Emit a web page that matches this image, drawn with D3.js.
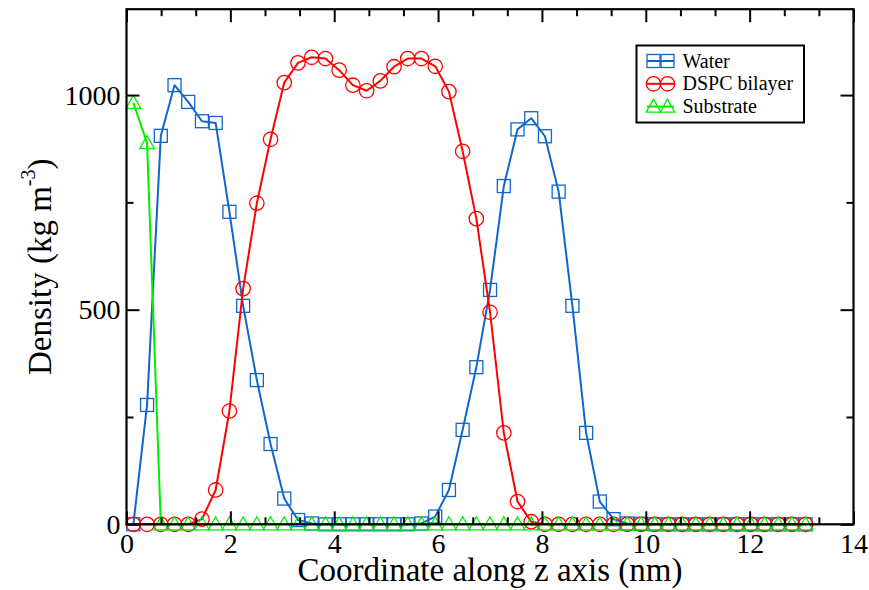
<!DOCTYPE html>
<html>
<head>
<meta charset="utf-8">
<script src="https://cdn.jsdelivr.net/npm/d3@7"></script>
<style>
  html, body { margin: 0; padding: 0; background: #fff; }
  svg { display: block; }
  svg text { font-family: "Liberation Serif", "Times New Roman", Times, serif !important; }
</style>
</head>
<body>
<svg id="chart" width="869" height="590"></svg>
<script>
// ---- data ----
const zCoord = [0.132, 0.396, 0.661, 0.925, 1.189, 1.453, 1.717, 1.982, 2.246, 2.510,
                2.774, 3.038, 3.303, 3.567, 3.831, 4.095, 4.359, 4.624, 4.888, 5.152,
                5.416, 5.680, 5.945, 6.209, 6.473, 6.737, 7.001, 7.266, 7.530, 7.794,
                8.058, 8.322, 8.587, 8.851, 9.115, 9.379, 9.643, 9.908, 10.172, 10.436,
                10.700, 10.964, 11.229, 11.493, 11.757, 12.021, 12.285, 12.550, 12.814, 13.078];
const water = [0, 278, 905, 1023, 984, 939, 935, 728, 509, 336,
               187, 60, 10, 2, 0, 0, 0, 0, 0, 0,
               0, 2, 18, 80, 220, 366, 546, 788, 920, 946,
               904, 775, 509, 213, 53, 12, 2, 1, 0, 0,
               0, 0, 0, 0, 0, 0, 0, 0, 0, 0];
const dspc = [0, 0, 0, 0, 0, 12, 80, 264, 549, 748,
              897, 1029, 1075, 1088, 1085, 1058, 1023, 1010, 1033, 1066,
              1085, 1085, 1067, 1008, 869, 712, 494, 213, 53, 6,
              0, 0, 0, 0, 0, 0, 0, 0, 0, 0,
              0, 0, 0, 0, 0, 0, 0, 0, 0, 0];
const substrate = [982, 888, 0, 0, 0, 0, 0, 0, 0, 0,
                   0, 0, 0, 0, 0, 0, 0, 0, 0, 0,
                   0, 0, 0, 0, 0, 0, 0, 0, 0, 0,
                   0, 0, 0, 0, 0, 0, 0, 0, 0, 0,
                   0, 0, 0, 0, 0, 0, 0, 0, 0, 0];
const seriesNames = ["Water", "DSPC bilayer", "Substrate"];
const xMajorTicks = [0, 2, 4, 6, 8, 10, 12, 14];
const yMajorTicks = [0, 500, 1000];
const xMinorTicks = [0.667, 1.333, 2.667, 3.333, 4.667, 5.333, 6.667, 7.333, 8.667, 9.333, 10.667, 11.333, 12.667, 13.333];
const yMinorTicks = [250, 750];
const xTitle = "Coordinate along z axis (nm)";

// ---- layout ----
const L = 126.5, R = 853.5, T = 9.2, B = 524.3;
const FONT = "'Liberation Serif', 'Times New Roman', Times, serif";
const svg = d3.select("#chart");
const x = d3.scaleLinear().domain([0, 14]).range([L, R]);
const y = d3.scaleLinear().domain([0, 1200]).range([B, T]);

const series = [
  { name: seriesNames[0], values: water, color: "#1166cc", symbol: "square" },
  { name: seriesNames[1], values: dspc, color: "#ff0000", symbol: "circle" },
  { name: seriesNames[2], values: substrate, color: "#00ee00", symbol: "triangle" }
];

function drawSymbol(g, type, cx, cy, color) {
  if (type === "square") {
    g.append("rect").attr("x", cx - 6.5).attr("y", cy - 6.5).attr("width", 13).attr("height", 13)
      .attr("fill", "none").attr("stroke", color).attr("stroke-width", 1.3);
  } else if (type === "circle") {
    g.append("circle").attr("cx", cx).attr("cy", cy).attr("r", 7.2)
      .attr("fill", "none").attr("stroke", color).attr("stroke-width", 1.3);
  } else {
    g.append("path").attr("d", `M${cx},${cy - 7.5} L${cx + 7.3},${cy + 5.5} L${cx - 7.3},${cy + 5.5} Z`)
      .attr("fill", "none").attr("stroke", color).attr("stroke-width", 1.3);
  }
}

const line = d3.line().x(d => x(d[0])).y(d => y(d[1]));
const dataG = svg.append("g");
series.forEach(s => {
  const pts = zCoord.map((z, i) => [z, s.values[i]]);
  dataG.append("path").attr("d", line(pts)).attr("fill", "none")
    .attr("stroke", s.color).attr("stroke-width", 2).attr("stroke-linejoin", "round");
  const mg = dataG.append("g");
  pts.forEach(p => drawSymbol(mg, s.symbol, x(p[0]), y(p[1]), s.color));
});

// ---- axes ----
function styleAxis(g) {
  g.attr("font-family", null).attr("font-size", null);
  g.select(".domain").remove();
  g.selectAll(".tick line").attr("stroke", "#000").attr("stroke-width", 2);
  g.selectAll(".tick text").attr("fill", "#000").style("font-size", "28px").style("font-family", FONT);
}
function noLabels(g) { g.selectAll(".tick text").remove(); }

svg.append("g").attr("transform", `translate(0,${B})`)
  .call(d3.axisBottom(x).tickValues(xMajorTicks).tickSize(-13).tickPadding(9).tickFormat(d3.format("d")))
  .call(styleAxis);
svg.append("g").attr("transform", `translate(0,${B})`)
  .call(d3.axisBottom(x).tickValues(xMinorTicks).tickSize(-7))
  .call(styleAxis).call(noLabels);
svg.append("g").attr("transform", `translate(0,${T})`)
  .call(d3.axisTop(x).tickValues(xMajorTicks).tickSize(-13))
  .call(styleAxis).call(noLabels);
svg.append("g").attr("transform", `translate(0,${T})`)
  .call(d3.axisTop(x).tickValues(xMinorTicks).tickSize(-7))
  .call(styleAxis).call(noLabels);
svg.append("g").attr("transform", `translate(${L},0)`)
  .call(d3.axisLeft(y).tickValues(yMajorTicks).tickSize(-13).tickPadding(6).tickFormat(d3.format("d")))
  .call(styleAxis);
svg.append("g").attr("transform", `translate(${L},0)`)
  .call(d3.axisLeft(y).tickValues(yMinorTicks).tickSize(-7))
  .call(styleAxis).call(noLabels);
svg.append("g").attr("transform", `translate(${R},0)`)
  .call(d3.axisRight(y).tickValues(yMajorTicks).tickSize(-13))
  .call(styleAxis).call(noLabels);
svg.append("g").attr("transform", `translate(${R},0)`)
  .call(d3.axisRight(y).tickValues(yMinorTicks).tickSize(-7))
  .call(styleAxis).call(noLabels);

// frame
svg.append("rect").attr("x", L).attr("y", T).attr("width", R - L).attr("height", B - T)
  .attr("fill", "none").attr("stroke", "#000").attr("stroke-width", 2.2);

// ---- titles ----
svg.append("text").attr("x", (L + R) / 2).attr("y", 581).attr("text-anchor", "middle")
  .style("font-family", FONT).style("font-size", "33px").attr("fill", "#000").text(xTitle);

const yt = svg.append("text").attr("transform", `translate(51,${(T + B) / 2}) rotate(-90)`)
  .attr("text-anchor", "middle").style("font-family", FONT).style("font-size", "33px").attr("fill", "#000");
yt.append("tspan").text("Density (kg m");
yt.append("tspan").style("font-size", "20px").attr("dy", -16).text("-3");
yt.append("tspan").attr("dy", 16).text(")");

// ---- legend ----
const lg = svg.append("g");
lg.append("rect").attr("x", 636.5).attr("y", 45.5).attr("width", 167.5).attr("height", 77)
  .attr("fill", "#fff").attr("stroke", "#000").attr("stroke-width", 2);
series.forEach((s, i) => {
  const cy = 61 + i * 22.8;
  lg.append("line").attr("x1", 647).attr("x2", 674).attr("y1", cy).attr("y2", cy)
    .attr("stroke", s.color).attr("stroke-width", 2);
  drawSymbol(lg, s.symbol, 653.5, cy, s.color);
  drawSymbol(lg, s.symbol, 667.5, cy, s.color);
  lg.append("text").attr("x", 682.5).attr("y", cy + 6.5)
    .style("font-family", FONT).style("font-size", "20px")
    .attr("fill", "#000").text(s.name);
});
</script>
</body>
</html>
